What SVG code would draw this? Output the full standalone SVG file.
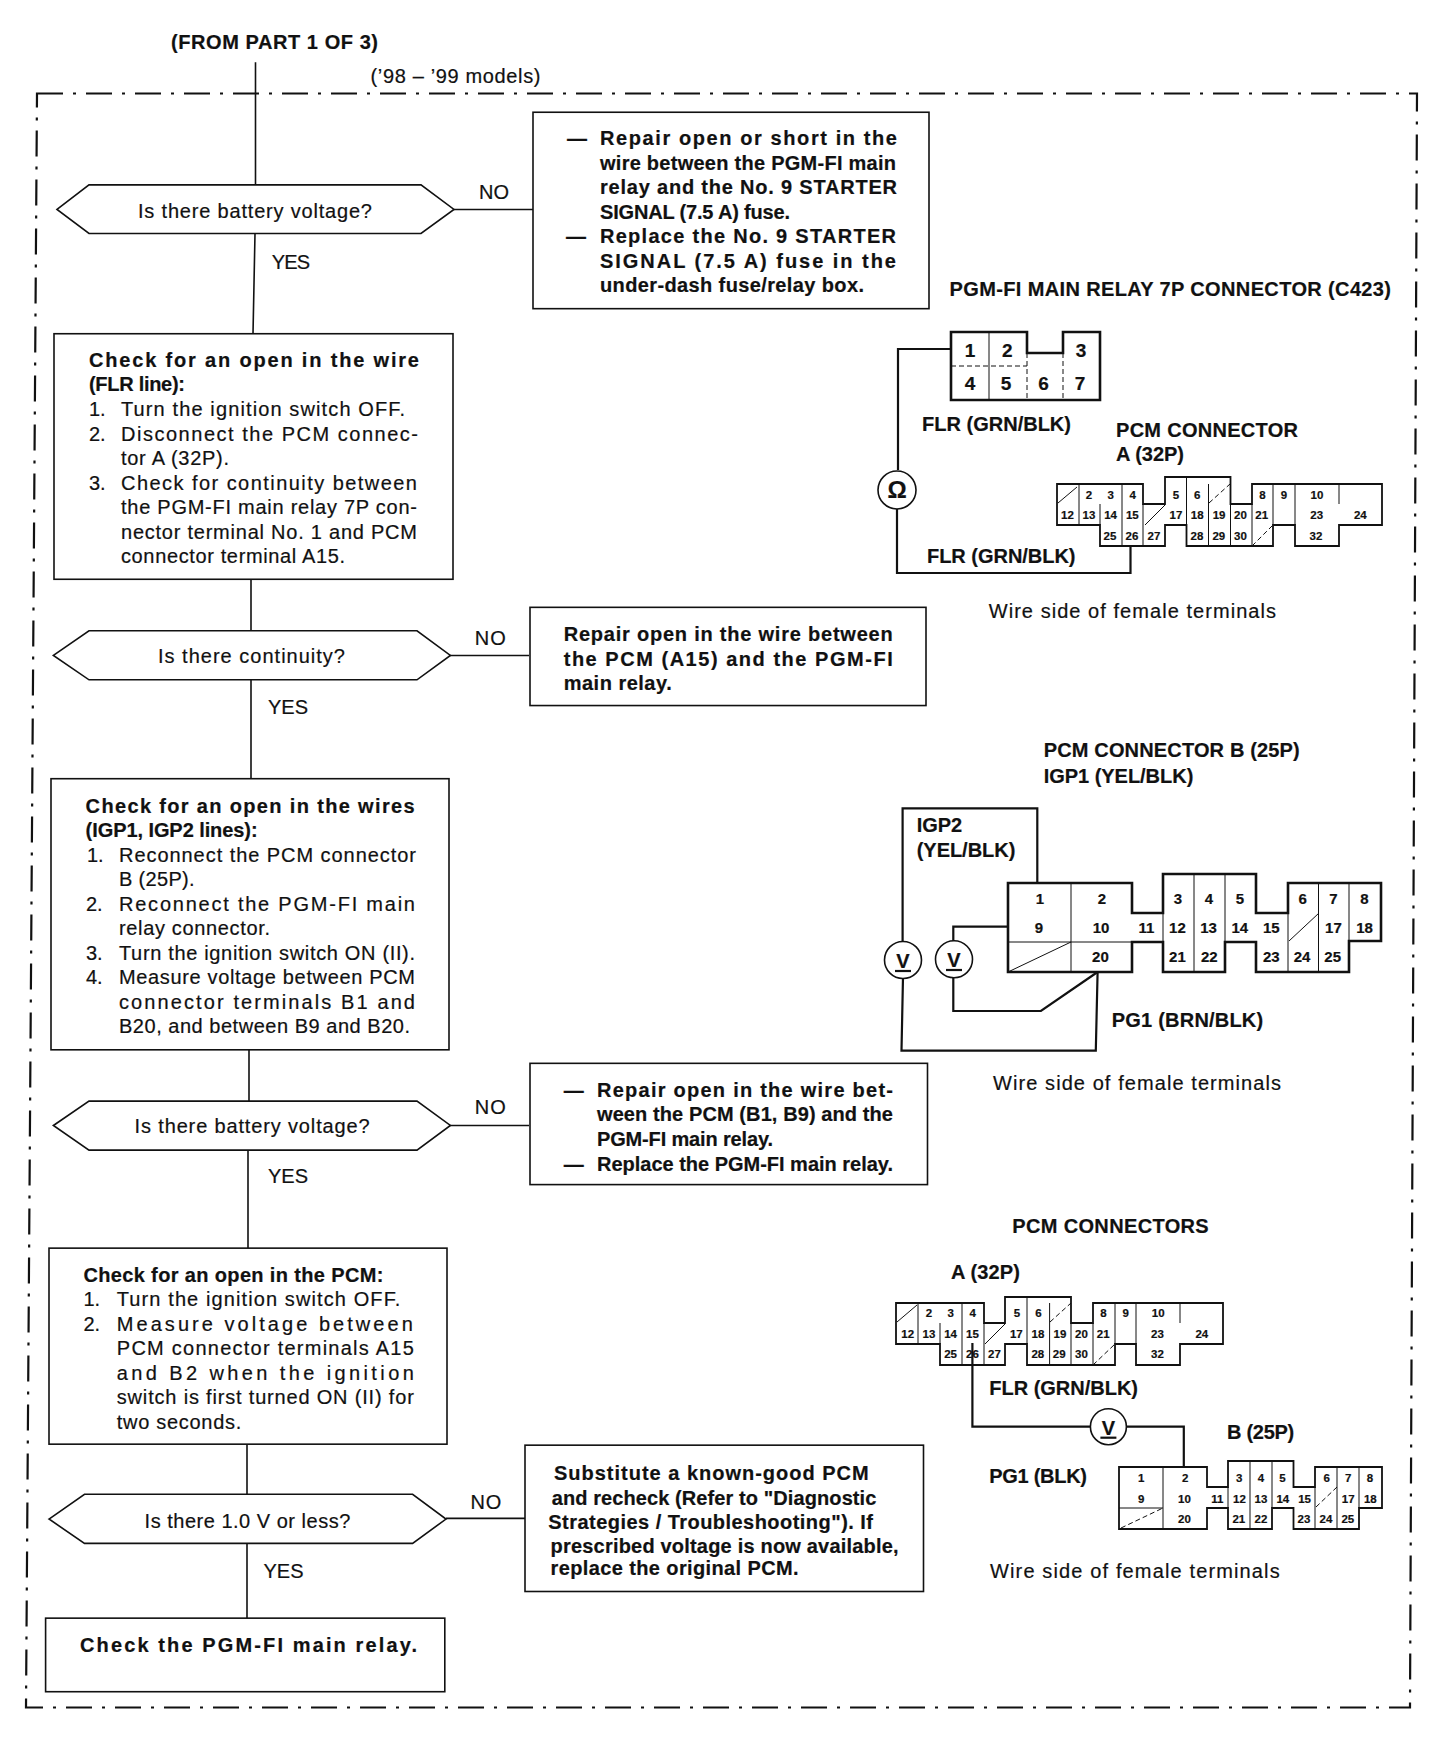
<svg xmlns="http://www.w3.org/2000/svg" width="1456" height="1748" viewBox="0 0 1456 1748">
<style>
text{font-family:"Liberation Sans",Arial,sans-serif;fill:#111;font-size:20px;stroke:#111;stroke-width:.2}
.b{font-weight:700}
.h{font-weight:700;font-size:20px}
.f{transform:scale(1,1.0022)}
.box{fill:#fff;stroke:#111;stroke-width:1.6}
.w{fill:none;stroke:#111;stroke-width:1.6}
.wt{fill:none;stroke:#111;stroke-width:2.2}
.o{fill:none;stroke:#111;stroke-width:2.6}
.i{fill:none;stroke:#111;stroke-width:1}
.d{fill:none;stroke:#111;stroke-width:1;stroke-dasharray:5 3}
.m{fill:#fff;stroke:#111;stroke-width:1.6}
.n11 text{font-size:11.5px;font-weight:700;text-anchor:middle;dominant-baseline:central}
.n14 text{font-size:15px;font-weight:700;text-anchor:middle;dominant-baseline:central}
.n18 text{font-size:19px;font-weight:700;text-anchor:middle;dominant-baseline:central}
.mt{font-size:24px;font-weight:700;text-anchor:middle}
</style>
<rect width="1456" height="1748" fill="#fff"/>
<g id="boundary"><path d="M37 93.500H1417L1410 1707.500H26Z" fill="none" stroke="#111" stroke-width="2.200" stroke-dasharray="26 10 3 10"/></g>
<g id="connectors" class="f">
<path class="w" d="M255.500 62V184.500M255 233L253 333M454 209H533"/>
<path class="w" d="M251 578V629.500M251 678V777M450 654H529"/>
<path class="w" d="M249 1047.500V1098.700M248 1147.600V1245.400M450 1123H529"/>
<path class="w" d="M247 1441V1491M247 1540V1614.600M446 1515H525"/>
</g>
<g id="title"><text class="b" x="171" y="49" textLength="207">(FROM PART 1 OF 3)</text><text x="370.500" y="82.700" textLength="170">(’98 – ’99 models)</text></g>
<g id="d1" class="f"><polygon class="box" points="57,209 89,184.500 421,184.500 454,209 421,233 89,233"/><text x="138" y="217.300" textLength="234">Is there battery voltage?</text></g>
<g id="lbl1" class="f"><text x="479" y="199" textLength="30">NO</text><text x="271.700" y="268" textLength="38.500">YES</text></g>
<g id="b1" class="f"><rect class="box" x="533" y="112" width="396" height="196"/>
<g class="b"><text x="567" y="145">—</text><text x="600" y="145" textLength="297">Repair open or short in the</text><text x="600" y="169.400" textLength="296">wire between the PGM-FI main</text><text x="600" y="193.800" textLength="297">relay and the No. 9 STARTER</text><text x="600" y="218.300" textLength="190">SIGNAL (7.5 A) fuse.</text><text x="566" y="242.700">—</text><text x="600" y="242.700" textLength="296">Replace the No. 9 STARTER</text><text x="600" y="267.200" textLength="296">SIGNAL (7.5 A) fuse in the</text><text x="600" y="291.700" textLength="264">under-dash fuse/relay box.</text></g></g>
<g id="b2" class="f"><rect class="box" x="54" y="333" width="399" height="245"/>
<text class="b" x="89" y="366" textLength="330">Check for an open in the wire</text><text class="b" x="89" y="390.600" textLength="96">(FLR line):</text>
<text x="89" y="415">1.</text><text x="121" y="415" textLength="284">Turn the ignition switch OFF.</text>
<text x="89" y="439.600">2.</text><text x="121" y="439.600" textLength="297">Disconnect the PCM connec-</text><text x="121" y="464" textLength="108">tor A (32P).</text>
<text x="89" y="488.500">3.</text><text x="121" y="488.500" textLength="296">Check for continuity between</text><text x="121" y="513" textLength="296">the PGM-FI main relay 7P con-</text><text x="121" y="537.400" textLength="296">nector terminal No. 1 and PCM</text><text x="121" y="562" textLength="224">connector terminal A15.</text></g>
<g id="d2" class="f"><polygon class="box" points="53.400,654 89,629.400 417,629.400 450.400,654 417,678.300 89,678.300"/><text x="158" y="662" textLength="187">Is there continuity?</text></g>
<g id="lbl2" class="f"><text x="474.800" y="643.700" textLength="31">NO</text><text x="268" y="712.500" textLength="40">YES</text></g>
<g id="b3" class="f"><rect class="box" x="530" y="606" width="396" height="98"/>
<g class="b"><text x="563.700" y="639.700" textLength="329">Repair open in the wire between</text><text x="563.700" y="664.200" textLength="329">the PCM (A15) and the PGM-FI</text><text x="563.700" y="688.700" textLength="108">main relay.</text></g></g>
<g id="b4" class="f"><rect class="box" x="51" y="777" width="398" height="270.500"/>
<text class="b" x="85.600" y="811" textLength="329">Check for an open in the wires</text><text class="b" x="85.600" y="835.400" textLength="172">(IGP1, IGP2 lines):</text>
<text x="87" y="859.900">1.</text><text x="119" y="859.900" textLength="297">Reconnect the PCM connector</text><text x="119" y="884.400" textLength="75.600">B (25P).</text>
<text x="86" y="908.800">2.</text><text x="119" y="908.800" textLength="296">Reconnect the PGM-FI main</text><text x="119" y="933.300" textLength="151">relay connector.</text>
<text x="86" y="957.800">3.</text><text x="119" y="957.800" textLength="296">Turn the ignition switch ON (II).</text>
<text x="86" y="982.200">4.</text><text x="119" y="982.200" textLength="296">Measure voltage between PCM</text><text x="119" y="1006.700" textLength="296">connector terminals B1 and</text><text x="119" y="1031.200" textLength="291">B20, and between B9 and B20.</text></g>
<g id="d3" class="f"><polygon class="box" points="53.400,1123 89,1098.700 417,1098.700 450.400,1123 417,1147.600 89,1147.600"/><text x="134.600" y="1130.600" textLength="235">Is there battery voltage?</text></g>
<g id="lbl3" class="f"><text x="474.800" y="1112" textLength="31">NO</text><text x="268" y="1180.600" textLength="40">YES</text></g>
<g id="b5" class="f"><rect class="box" x="530" y="1061" width="397.500" height="121"/>
<g class="b"><text x="563.700" y="1094.500">—</text><text x="597" y="1094.500" textLength="296">Repair open in the wire bet-</text><text x="597" y="1119" textLength="296">ween the PCM (B1, B9) and the</text><text x="597" y="1143.500" textLength="176">PGM-FI main relay.</text><text x="563.700" y="1168">—</text><text x="597" y="1168" textLength="296">Replace the PGM-FI main relay.</text></g></g>
<g id="b6" class="f"><rect class="box" x="49" y="1245.400" width="398" height="195.600"/>
<text class="b" x="83.400" y="1279" textLength="300">Check for an open in the PCM:</text>
<text x="83.400" y="1303.600">1.</text><text x="116.800" y="1303.600" textLength="283.500">Turn the ignition switch OFF.</text>
<text x="83.400" y="1328">2.</text><text x="116.800" y="1328" textLength="296">Measure voltage between</text><text x="116.800" y="1352.500" textLength="297">PCM connector terminals A15</text><text x="116.800" y="1377" textLength="297">and B2 when the ignition</text><text x="116.800" y="1401.400" textLength="297">switch is first turned ON (II) for</text><text x="116.800" y="1425.900" textLength="124.500">two seconds.</text></g>
<g id="d4" class="f"><polygon class="box" points="49,1515.700 84.500,1491 412.600,1491 446,1515.700 412.600,1540 84.500,1540"/><text x="144.600" y="1524.300" textLength="205.700">Is there 1.0 V or less?</text></g>
<g id="lbl4" class="f"><text x="470.400" y="1505.700" textLength="31">NO</text><text x="263.500" y="1574.300" textLength="40">YES</text></g>
<g id="b7" class="f"><rect class="box" x="525" y="1442" width="398.500" height="146"/>
<g class="b"><text x="554" y="1477" textLength="314.700">Substitute a known-good PCM</text><text x="551.700" y="1501.500" textLength="324.700">and recheck (Refer to "Diagnostic</text><text x="548.300" y="1526" textLength="324.700">Strategies / Troubleshooting"). If</text><text x="550.600" y="1549.400" textLength="348">prescribed voltage is now available,</text><text x="550.600" y="1571.600" textLength="248">replace the original PCM.</text></g></g>
<g id="b8" class="f"><rect class="box" x="45.600" y="1614.600" width="399.200" height="73.400"/><text class="b" x="80" y="1648" textLength="337">Check the PGM-FI main relay.</text></g>

<g id="relay-7p">
<text class="h" x="949.600" y="296" textLength="441.400">PGM-FI MAIN RELAY 7P CONNECTOR (C423)</text>
<path class="d" d="M951 366H1027M1027 353V400M1063 353V400"/>
<path class="i" d="M989 332V400"/>
<path class="o" d="M951 332H1027V353H1063V332H1100V400H951Z"/>
<g class="n18"><text x="970" y="350">1</text><text x="1007.400" y="350">2</text><text x="1081" y="350">3</text><text x="970" y="383">4</text><text x="1006" y="383">5</text><text x="1043.600" y="383">6</text><text x="1080" y="383">7</text></g>
</g>
<g id="wire-flr"><path class="wt" d="M951 349H898V470M897 508V573H1130.500V546"/></g>
<g id="ohm"><circle class="m" cx="897" cy="490" r="19"/><text class="mt" x="897" y="498">Ω</text></g>
<g id="relay-labels"><text class="h" x="922" y="430.700" textLength="149">FLR (GRN/BLK)</text><text class="h" x="1116" y="436.700" textLength="182">PCM CONNECTOR</text><text class="h" x="1116" y="461" textLength="68">A (32P)</text><text class="h" x="927" y="562.700" textLength="148.500">FLR (GRN/BLK)</text><text x="988.700" y="618.300" textLength="287.300">Wire side of female terminals</text></g>
<g id="pcm-a-1">
<path class="i" d="M1079 484V525M1100 504V525M1122 484V546M1143 504V546M1186.500 477V525M1208.500 484V546M1230.500 504V546M1252 504V546M1273 484V525M1295 484V525M1339 484V504M1058 503L1077 487M1145 525L1165 505"/>
<path class="d" d="M1209 503L1230 484M1252 546L1273 525"/>
<path class="wt" style="stroke-width:1.800" d="M1057 484H1143V504H1165V477H1230.500V504H1252V484H1382V525H1339V546H1295V525H1273V546H1186.500V525H1165V546H1100V525H1057Z"/>
<g class="n11"><text x="1089" y="494.700">2</text><text x="1110.600" y="494.700">3</text><text x="1132.600" y="494.700">4</text><text x="1175.900" y="494.700">5</text><text x="1197.200" y="494.700">6</text><text x="1262.400" y="494.700">8</text><text x="1284" y="494.700">9</text><text x="1317" y="494.700">10</text>
<text x="1067.400" y="515">12</text><text x="1089" y="515">13</text><text x="1110.600" y="515">14</text><text x="1132.300" y="515">15</text><text x="1175.900" y="515">17</text><text x="1197.200" y="515">18</text><text x="1219.100" y="515">19</text><text x="1240.400" y="515">20</text><text x="1261.700" y="515">21</text><text x="1316.700" y="515">23</text><text x="1360.300" y="515">24</text>
<text x="1110" y="535.700">25</text><text x="1132" y="535.700">26</text><text x="1153.900" y="535.700">27</text><text x="1197" y="535.700">28</text><text x="1218.800" y="535.700">29</text><text x="1240.400" y="535.700">30</text><text x="1316" y="535.700">32</text></g>
</g>

<g id="pcm-b-1">
<text class="h" x="1043.700" y="757.300" textLength="256">PCM CONNECTOR B (25P)</text><text class="h" x="1043.700" y="782.700" textLength="149.600">IGP1 (YEL/BLK)</text>
<path class="i" d="M1071 883V972M1008 942H1132M1008 972L1071 942M1194 874V972M1225 874V942M1163 913V942M1288 913V972M1318.500 883V972M1349 883V941M1289 941L1319 913"/>
<path class="o" d="M1008 883H1132V913H1163V874H1256V913H1288V883H1381V941H1349V972H1256V942H1225V972H1163V942H1132V972H1008Z"/>
<g class="n14"><text x="1039.800" y="898.300">1</text><text x="1101.800" y="898.300">2</text><text x="1178" y="898.300">3</text><text x="1209" y="898.300">4</text><text x="1239.800" y="898.300">5</text><text x="1302.600" y="898.300">6</text><text x="1333.400" y="898.300">7</text><text x="1364.300" y="898.300">8</text>
<text x="1039" y="927.700">9</text><text x="1101" y="927.700">10</text><text x="1146.500" y="927.700">11</text><text x="1177.400" y="927.700">12</text><text x="1208.600" y="927.700">13</text><text x="1239.800" y="927.700">14</text><text x="1271.300" y="927.700">15</text><text x="1333.400" y="927.700">17</text><text x="1364.600" y="927.700">18</text>
<text x="1100.400" y="956.700">20</text><text x="1177.400" y="956.700">21</text><text x="1209.300" y="956.700">22</text><text x="1271.300" y="956.700">23</text><text x="1302" y="956.700">24</text><text x="1332.700" y="956.700">25</text></g>
</g>
<g id="wires-b"><path class="wt" d="M1037.300 883V808.300H902.600V942M903 977L901.500 1050.700H1095.800L1097.600 972"/><path class="wt" d="M1007 926.700H953.300V941M953.300 977V1011H1040.900L1097.600 972"/></g>
<g id="v1"><circle class="m" cx="903" cy="960" r="18.500"/><text class="mt" x="903" y="968" style="font-size:20px">V</text><path class="wt" d="M895 971H911"/></g>
<g id="v2"><circle class="m" cx="954" cy="959.300" r="18.500"/><text class="mt" x="954" y="967" style="font-size:20px">V</text><path class="wt" d="M946 970H962"/></g>
<g id="b-labels"><text class="h" x="916.700" y="831.700" textLength="45.300">IGP2</text><text class="h" x="916.700" y="856.700" textLength="98.600">(YEL/BLK)</text><text class="h" x="1111.800" y="1026.700" textLength="151.400">PG1 (BRN/BLK)</text><text x="993" y="1090" textLength="288">Wire side of female terminals</text></g>

<g id="pcm-conn-3">
<text class="h" x="1012.200" y="1232.700" textLength="196.500">PCM CONNECTORS</text><text class="h" x="951" y="1279" textLength="69">A (32P)</text>
<path class="i" d="M918 1303V1344M940 1323V1344M962 1303V1365M984 1323V1365M1027 1297V1344M1049.600 1303V1365M1071 1323V1365M1093 1323V1365M1115 1303V1344M1136 1303V1344M1180 1303V1323M897 1322L917 1305M985 1344L1005 1324"/>
<path class="d" d="M1050 1322L1071 1303M1093 1365L1115 1344"/>
<path class="wt" style="stroke-width:1.800" d="M896 1303H984V1323H1005V1297H1071V1323H1093V1303H1223V1344H1180V1365H1136V1344H1115V1365H1027V1344H1005V1365H940V1344H896Z"/>
<g class="n11"><text x="929" y="1313.300">2</text><text x="950.600" y="1313.300">3</text><text x="972.700" y="1313.300">4</text><text x="1017" y="1313.300">5</text><text x="1038.500" y="1313.300">6</text><text x="1103.500" y="1313.300">8</text><text x="1125.700" y="1313.300">9</text><text x="1158.200" y="1313.300">10</text>
<text x="907.700" y="1333.700">12</text><text x="929" y="1333.700">13</text><text x="950.600" y="1333.700">14</text><text x="972.400" y="1333.700">15</text><text x="1016.300" y="1333.700">17</text><text x="1038" y="1333.700">18</text><text x="1060" y="1333.700">19</text><text x="1081.400" y="1333.700">20</text><text x="1103.200" y="1333.700">21</text><text x="1157.500" y="1333.700">23</text><text x="1201.800" y="1333.700">24</text>
<text x="950.600" y="1354.300">25</text><text x="972.400" y="1354.300">26</text><text x="994.500" y="1354.300">27</text><text x="1037.800" y="1354.300">28</text><text x="1059.200" y="1354.300">29</text><text x="1081.400" y="1354.300">30</text><text x="1157.500" y="1354.300">32</text></g>
</g>
<g id="wire-3"><path class="wt" d="M972.400 1343V1426.700H1090M1126.400 1426.700H1183.800V1466.700"/></g>
<g id="v3"><circle class="m" cx="1108.400" cy="1426.700" r="18"/><text class="mt" x="1108.400" y="1434.700" style="font-size:20px">V</text><path class="wt" d="M1100.400 1437.700H1116.400"/></g>
<g id="pcm-b-3">
<path class="i" d="M1163 1467V1529M1119 1508H1163M1250 1461V1529M1272 1461V1508M1228 1487V1508M1315 1487V1529M1337 1467V1529M1359 1467V1508"/>
<path class="d" d="M1121 1528L1163 1508M1316 1507L1337 1487"/>
<path class="wt" style="stroke-width:1.800" d="M1119 1467H1207V1487H1228V1461H1293.500V1487H1315V1467H1382V1508H1359V1529H1293.500V1508H1272V1529H1228V1508H1207V1529H1119Z"/>
<g class="n11"><text x="1141.200" y="1478.300">1</text><text x="1185.200" y="1478.300">2</text><text x="1239.200" y="1478.300">3</text><text x="1261" y="1478.300">4</text><text x="1282.400" y="1478.300">5</text><text x="1326.700" y="1478.300">6</text><text x="1348.200" y="1478.300">7</text><text x="1370" y="1478.300">8</text>
<text x="1141.200" y="1498.700">9</text><text x="1184.500" y="1498.700">10</text><text x="1217.400" y="1498.700">11</text><text x="1239.500" y="1498.700">12</text><text x="1261" y="1498.700">13</text><text x="1282.800" y="1498.700">14</text><text x="1304.600" y="1498.700">15</text><text x="1348.200" y="1498.700">17</text><text x="1370.300" y="1498.700">18</text>
<text x="1184.500" y="1519">20</text><text x="1238.800" y="1519">21</text><text x="1261" y="1519">22</text><text x="1303.900" y="1519">23</text><text x="1326" y="1519">24</text><text x="1347.800" y="1519">25</text></g>
</g>
<g id="labels-3"><text class="h" x="989.300" y="1395" textLength="148.700">FLR (GRN/BLK)</text><text class="h" x="1227" y="1438.700" textLength="67.200">B (25P)</text><text class="h" x="989.300" y="1482.700" textLength="97.700">PG1 (BLK)</text><text x="990" y="1578.300" textLength="289.700">Wire side of female terminals</text></g>
</svg>
